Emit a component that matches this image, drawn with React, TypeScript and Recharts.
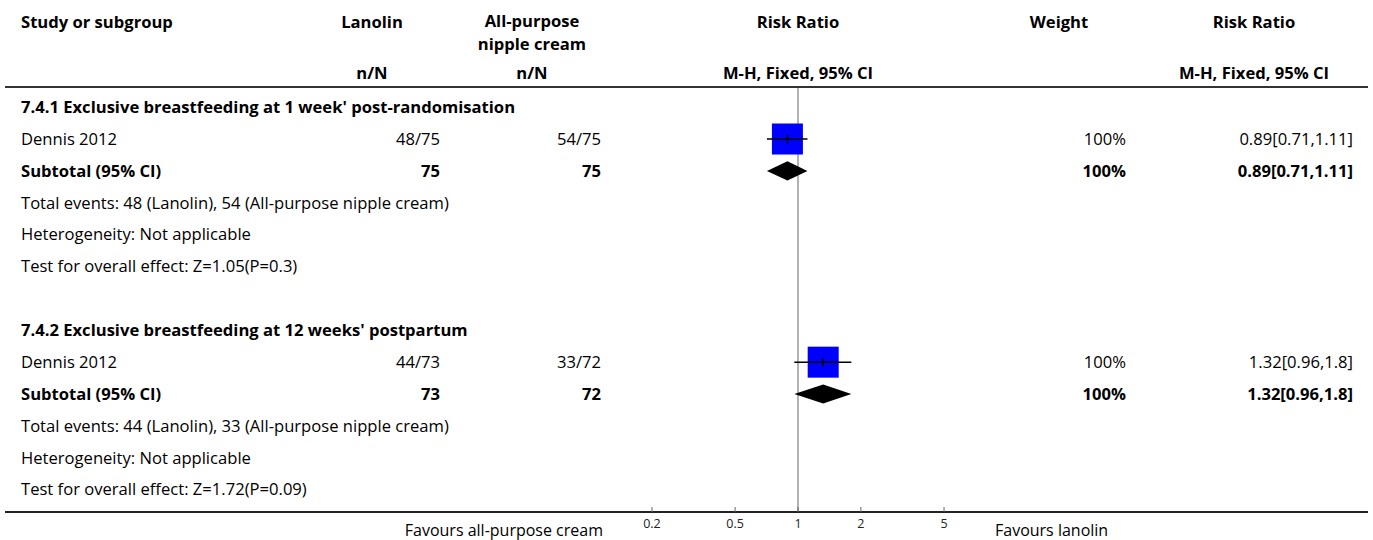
import React from "react";
import { ScatterChart, Scatter, ErrorBar, XAxis, YAxis, ReferenceArea } from "recharts";

const FONT = "'Open Sans', 'Noto Sans', sans-serif";
const FS = 16.6;

// table rows, top to bottom
const rowLabels = [
  "7.4.1 Exclusive breastfeeding at 1 week' post-randomisation",
  "Dennis 2012",
  "Subtotal (95% CI)",
  "Total events: 48 (Lanolin), 54 (All-purpose nipple cream)",
  "Heterogeneity: Not applicable",
  "Test for overall effect: Z=1.05(P=0.3)",
  "",
  "7.4.2 Exclusive breastfeeding at 12 weeks' postpartum",
  "Dennis 2012",
  "Subtotal (95% CI)",
  "Total events: 44 (Lanolin), 33 (All-purpose nipple cream)",
  "Heterogeneity: Not applicable",
  "Test for overall effect: Z=1.72(P=0.09)",
];
const rowBold = [true, false, true, false, false, false, false, true, false, true, false, false, false];
const lanolinCol = ["", "48/75", "75", "", "", "", "", "", "44/73", "73", "", "", ""];
const creamCol = ["", "54/75", "75", "", "", "", "", "", "33/72", "72", "", "", ""];
const weightCol = ["", "100%", "100%", "", "", "", "", "", "100%", "100%", "", "", ""];
const rrCol = ["", "0.89[0.71,1.11]", "0.89[0.71,1.11]", "", "", "", "", "", "1.32[0.96,1.8]", "1.32[0.96,1.8]", "", "", ""];
const rowIdx = rowLabels.map((_, i) => i);

// individual studies
const studyRows = [1, 8];
const studyRR = [0.89, 1.32];
const studyLo = [0.71, 0.96];
const studyHi = [1.11, 1.8];

// subtotals (diamonds)
const subRows = [2, 9];
const subRR = [0.89, 1.32];
const subLo = [0.71, 0.96];
const subHi = [1.11, 1.8];

const xTicks = [0.2, 0.5, 1, 2, 5];

const studies = studyRows.map((row, i) => ({
  row,
  rr: studyRR[i],
  ci: [studyRR[i] - studyLo[i], studyHi[i] - studyRR[i]],
}));

const RowTick = ({ y, payload }: any) => {
  const i = payload.value;
  const w = rowBold[i] ? 700 : 400;
  return (
    <g fontFamily={FONT} fontSize={FS} fill="#000">
      <text x={21} y={y} dy="0.35em" fontWeight={w}>{rowLabels[i]}</text>
      <text x={440} y={y} dy="0.35em" textAnchor="end" fontWeight={w}>{lanolinCol[i]}</text>
      <text x={601} y={y} dy="0.35em" textAnchor="end" fontWeight={w}>{creamCol[i]}</text>
      <text x={1126} y={y} dy="0.35em" textAnchor="end" fontWeight={w}>{weightCol[i]}</text>
      <text x={1353} y={y} dy="0.35em" textAnchor="end" fontWeight={w}>{rrCol[i]}</text>
    </g>
  );
};

// blue weight box with the CI line drawn through it
const Square = ({ cx, cy }: any) => (
  <g>
    <rect x={cx - 15.5} y={cy - 15.5} width={31} height={31} fill="#0000FF" />
    <line x1={cx - 15.5} x2={cx + 15.5} y1={cy} y2={cy} stroke="#000" strokeWidth={1.5} />
    <line x1={cx} x2={cx} y1={cy - 4.5} y2={cy + 4.5} stroke="#000" strokeWidth={1.5} />
  </g>
);

const diamondShape = (est: number, lo: number, hi: number) => (p: any) => {
  const f = (Math.log(est) - Math.log(lo)) / (Math.log(hi) - Math.log(lo));
  const mx = p.x + f * p.width;
  const my = p.y + p.height / 2;
  return (
    <polygon
      points={`${p.x},${my} ${mx},${p.y} ${p.x + p.width},${my} ${mx},${p.y + p.height}`}
      fill="#000"
    />
  );
};

const nullLine = (p: any) => {
  const x = p.x + p.width / 2;
  return <line x1={x} x2={x} y1={p.y} y2={p.y + p.height} stroke="#999" strokeWidth={1.5} />;
};

const hdr = (text: string, cx: number, cy: number, w = 240) => (
  <div
    style={{
      position: "absolute", left: cx - w / 2, top: cy - 9, width: w, height: 18,
      lineHeight: "18px", textAlign: "center", fontWeight: 700, fontSize: FS,
    }}
  >
    {text}
  </div>
);

export default function App() {
  return (
    <div style={{ position: "absolute", left: 0, top: 0, width: 1373, height: 540, background: "#fff", fontFamily: FONT, color: "#000" }}>
      <div style={{ position: "absolute", left: 21, top: 13, height: 18, lineHeight: "18px", fontWeight: 700, fontSize: FS }}>Study or subgroup</div>
      {hdr("Lanolin", 372, 22)}
      {hdr("n/N", 372, 73)}
      {hdr("All-purpose", 532, 20.5)}
      {hdr("nipple cream", 532, 43.5)}
      {hdr("n/N", 532, 73)}
      {hdr("Risk Ratio", 798, 22)}
      {hdr("M-H, Fixed, 95% CI", 798, 73)}
      {hdr("Weight", 1059, 22)}
      {hdr("Risk Ratio", 1254, 22)}
      {hdr("M-H, Fixed, 95% CI", 1254, 73)}
      <div style={{ position: "absolute", left: 5, top: 86, width: 1363, height: 2, background: "#333" }} />
      <div style={{ position: "absolute", left: 5, top: 511, width: 1363, height: 2, background: "#222" }} />
      <div style={{ position: "absolute", left: 283, top: 520, width: 320, height: 20, lineHeight: "20px", textAlign: "right", fontSize: 16 }}>Favours all-purpose cream</div>
      <div style={{ position: "absolute", left: 995, top: 520, height: 20, lineHeight: "20px", fontSize: 16 }}>Favours lanolin</div>
      <div style={{ position: "absolute", left: 0, top: 0 }}>
        <ScatterChart width={1373} height={540} margin={{ top: 88, right: 402, bottom: 27, left: 624 }}>
          <XAxis
            dataKey="rr"
            type="number"
            scale="log"
            domain={[0.1486, 6.73]}
            allowDataOverflow
            ticks={xTicks}
            interval={0}
            height={1}
            tickSize={-5}
            tickMargin={12}
            axisLine={{ stroke: "#222", strokeWidth: 2 }}
            tickLine={{ stroke: "#666" }}
            tick={{ fontSize: 12.5, fill: "#222", fontFamily: FONT }}
          />
          <YAxis
            dataKey="row"
            type="number"
            domain={[-0.6, 12.7]}
            reversed
            ticks={rowIdx}
            interval={0}
            width={1}
            axisLine={false}
            tickLine={false}
            tick={<RowTick />}
          />
          <ReferenceArea x1={0.999} x2={1.001} shape={nullLine} />
          {subRows.map((row, i) => (
            <ReferenceArea
              key={row}
              x1={subLo[i]}
              x2={subHi[i]}
              y1={row - 0.3}
              y2={row + 0.3}
              shape={diamondShape(subRR[i], subLo[i], subHi[i])}
            />
          ))}
          <Scatter data={studies} shape={<Square />} isAnimationActive={false}>
            <ErrorBar dataKey="ci" direction="x" width={0} stroke="#000" strokeWidth={1.5} isAnimationActive={false} />
          </Scatter>
        </ScatterChart>
      </div>
    </div>
  );
}
